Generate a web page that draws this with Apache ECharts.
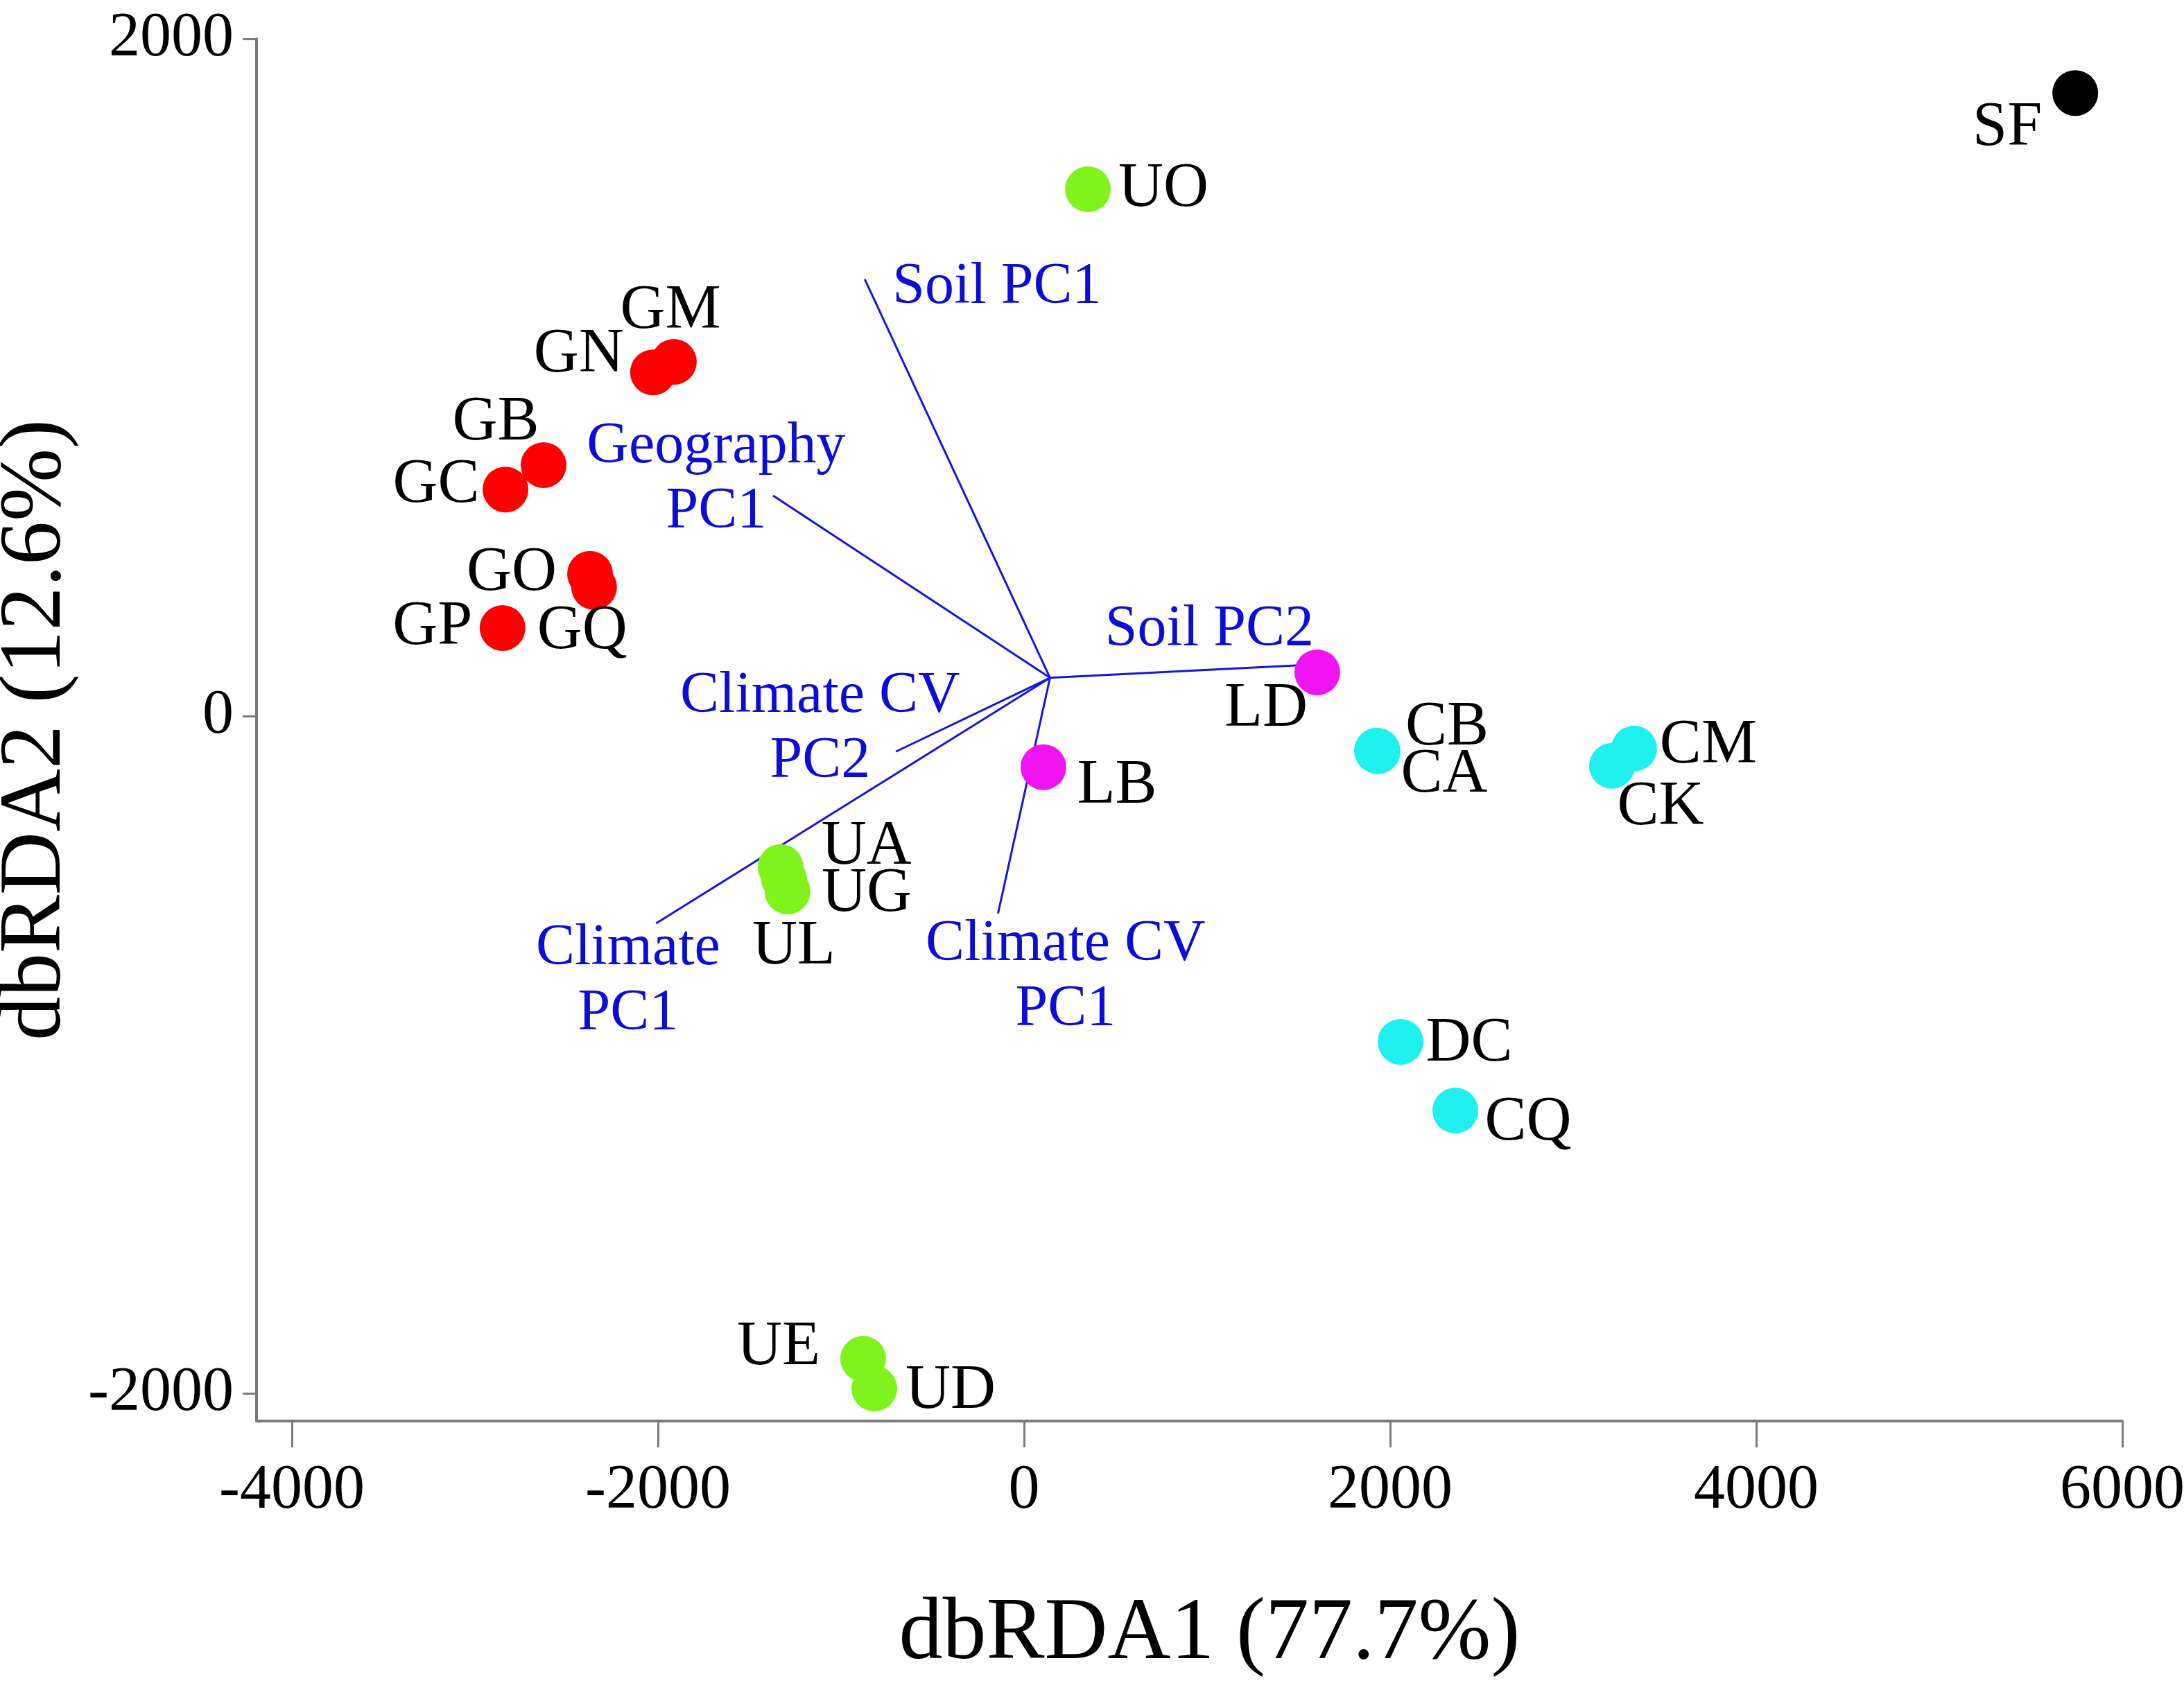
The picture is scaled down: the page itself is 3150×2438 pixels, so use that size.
<!DOCTYPE html>
<html>
<head>
<meta charset="utf-8">
<script src="https://cdn.jsdelivr.net/npm/echarts@6/dist/echarts.min.js"></script>
<style>
  html, body { margin: 0; padding: 0; background: #fff; }
  #main { width: 3150px; height: 2438px; }
</style>
</head>
<body>
<div id="main"></div>
<script>
// sites (dbRDA scores)
var siteNames = ['GM', 'GN', 'GB', 'GC', 'GO', 'GQ', 'GP',
                 'UO', 'UA', 'UL', 'UG', 'UE', 'UD',
                 'LD', 'LB',
                 'CB', 'CA', 'CM', 'CK', 'DC', 'CQ',
                 'SF'];
var siteX = [-1913, -2027, -2625, -2833, -2371, -2349, -2849,
             349, -1330, -1311, -1292, -879, -818,
             1602, 106,
             1928, 1932, 3333, 3212, 2057, 2356,
             5743];
var siteY = [1046, 1015, 741, 669, 420, 381, 260,
             1556, -446, -481, -518, -1898, -1986,
             129, -151,
             -102, -104, -96, -147, -962, -1165,
             1840];
var siteGroup = ['G', 'G', 'G', 'G', 'G', 'G', 'G',
                 'U', 'U', 'U', 'U', 'U', 'U',
                 'L', 'L',
                 'C', 'C', 'C', 'C', 'C', 'C',
                 'S'];

// environmental vectors
var vectorOrigin = [142, 113];
var vectorNames = ['Soil PC1', 'Geography\nPC1', 'Soil PC2', 'Climate CV\nPC2', 'Climate\nPC1', 'Climate CV\nPC1'];
var vectorEndX = [-870, -1371, 1500, -700, -2010, -142];
var vectorEndY = [1290, 651, 150, -105, -612, -583];
var vectorLabelX = [-148, -1682, 1013, -1114, -2163, 227];
var vectorLabelY = [1265, 698, 254, -39, -784, -772];

var xTicks = [-4000, -2000, 0, 2000, 4000, 6000];
var yTicks = [-2000, 0, 2000];

var groupColor = { G: '#ff0000', U: '#80f21c', L: '#f014f0', C: '#1ef0f0', S: '#000000' };

// label placement around each circle (px from centre)
var labelOffset = {
  GM: [-5, -73], GN: [-107, -25], GB: [-69, -61], GC: [-100, -6], GO: [-113, 0], GQ: [-17, 65], GP: [-101, -1],
  UO: [109, 0], UA: [124, -28], UL: [14, 98], UG: [114, 4], UE: [-122, -16], UD: [110, 4],
  LD: [-74, 53], LB: [106, 28],
  CB: [101, -32], CA: [96, 35], CM: [107, -4], CK: [70, 61], DC: [99, 3], CQ: [105, 18],
  SF: [-98, 51]
};

var FONT = 'Liberation Serif';

var siteData = [];
for (var i = 0; i < siteNames.length; i++) {
  siteData.push({
    name: siteNames[i],
    value: [siteX[i], siteY[i]],
    itemStyle: { color: groupColor[siteGroup[i]], opacity: 1 },
    label: { offset: labelOffset[siteNames[i]] }
  });
}

var vectorLines = [];
var vectorText = [];
for (var j = 0; j < vectorNames.length; j++) {
  vectorLines.push({ coords: [vectorOrigin, [vectorEndX[j], vectorEndY[j]]] });
  vectorText.push({ name: vectorNames[j], value: [vectorLabelX[j], vectorLabelY[j]] });
}

var axisGrey = '#7a7a7a';

var option = {
  backgroundColor: '#fff',
  animation: false,
  grid: { left: 370, top: 56, right: 89, bottom: 388, containLabel: false, outerBoundsMode: 'none' },
  xAxis: {
    type: 'value',
    min: -4193,
    max: 6000,
    name: 'dbRDA1 (77.7%)',
    nameLocation: 'middle',
    nameGap: 246,
    nameTextStyle: { fontFamily: FONT, fontSize: 126, color: '#000', padding: [0, 0, 0, 58] },
    axisLine: { show: true, onZero: false, lineStyle: { color: axisGrey, width: 4 } },
    axisTick: { show: true, length: 38, customValues: xTicks, lineStyle: { color: axisGrey, width: 3 } },
    axisLabel: {
      customValues: xTicks, margin: 56, fontFamily: FONT, fontSize: 90, color: '#000',
      formatter: function (v) { return String(v); }
    },
    splitLine: { show: false }
  },
  yAxis: {
    type: 'value',
    min: -2082,
    max: 2000,
    name: 'dbRDA2 (12.6%)',
    nameLocation: 'middle',
    nameGap: 192,
    nameTextStyle: { fontFamily: FONT, fontSize: 126, color: '#000', padding: [0, 0, 46, 0] },
    axisLine: { show: true, onZero: false, lineStyle: { color: axisGrey, width: 4 } },
    axisTick: { show: true, length: 20, customValues: yTicks, lineStyle: { color: axisGrey, width: 3 } },
    axisLabel: {
      customValues: yTicks, margin: 33, fontFamily: FONT, fontSize: 90, color: '#000',
      formatter: function (v) { return String(v); }
    },
    splitLine: { show: false }
  },
  series: [
    {
      type: 'lines',
      coordinateSystem: 'cartesian2d',
      data: vectorLines,
      lineStyle: { color: '#1414dc', width: 3, opacity: 1 },
      z: 1
    },
    {
      type: 'scatter',
      data: vectorText,
      symbolSize: 1,
      itemStyle: { color: 'rgba(0,0,0,0)', opacity: 1 },
      label: {
        show: true,
        position: 'inside',
        formatter: '{b}',
        fontFamily: FONT,
        fontSize: 84,
        lineHeight: 94,
        color: '#0c0cd8',
        align: 'center'
      },
      z: 2
    },
    {
      type: 'scatter',
      data: siteData,
      symbol: 'circle',
      symbolSize: 66,
      label: {
        show: true,
        position: 'inside',
        formatter: '{b}',
        fontFamily: FONT,
        fontSize: 90,
        color: '#000'
      },
      z: 3
    }
  ]
};

var chart = echarts.init(document.getElementById('main'));
chart.setOption(option);
</script>
</body>
</html>
